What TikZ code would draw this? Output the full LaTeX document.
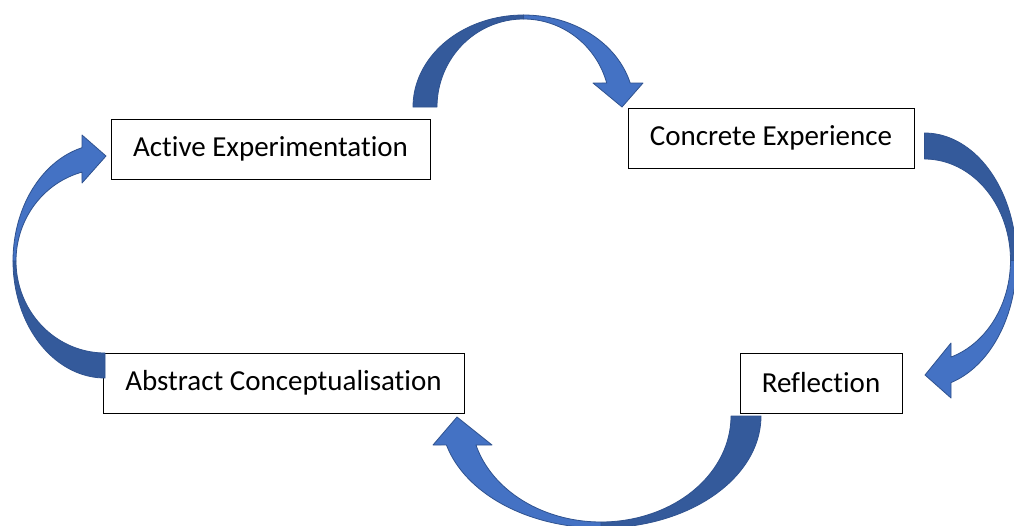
\documentclass[tikz,border=0pt]{standalone}
\usepackage{fontspec}
\setmainfont{Carlito}[Ligatures=NoCommon]
\definecolor{arrdark}{RGB}{52,90,155}
\definecolor{arrlight}{RGB}{68,114,196}
\definecolor{arrline}{RGB}{47,82,143}
\begin{document}
\begin{tikzpicture}[x=1pt,y=-1pt,
  stagebox/.style={draw=black, line width=1pt, fill=white, inner sep=0pt,
    minimum height=60pt, font=\fontsize{29}{34}\selectfont},
  backpart/.style={fill=arrdark, draw=arrline, line width=0.8pt, line join=round},
  frontpart/.style={fill=arrlight, draw=arrline, line width=0.8pt, line join=round}]
\clip (0,0) rectangle (1014,525);
\fill[white] (0,0) rectangle (1014,525);

% stages
\node[stagebox, minimum width=319pt] (ae) at (270.5,149) {Active Experimentation};
\node[stagebox, minimum width=286pt] (ce) at (771,138) {Concrete Experience};
\node[stagebox, minimum width=361pt] (ac) at (283.5,383) {Abstract Conceptualisation};
\node[stagebox, minimum width=162pt] (rf) at (821,383) {Reflection};

% top arrow: Active Experimentation -> Concrete Experience
\path[backpart] plot[domain=180:270,samples=40] ({523.5+110.5*cos(\x)},{107+92*sin(\x)})
  -- plot[domain=270:180,samples=40] ({523.5+86.5*cos(\x)},{107+88*sin(\x)}) -- cycle;
\path[frontpart] plot[domain=270:344.88,samples=40] ({523.5+110.5*cos(\x)},{107+92*sin(\x)})
  -- (643,83) -- (622,107) -- (593,83)
  -- plot[domain=344.17:270,samples=40] ({523.5+86.5*cos(\x)},{107+88*sin(\x)}) -- cycle;

% right arrow: Concrete Experience -> Reflection
\path[backpart] plot[domain=270:360,samples=40] ({924.5+92*cos(\x)},{260.5+127.5*sin(\x)})
  -- plot[domain=360:270,samples=40] ({924.5+86*cos(\x)},{260.5+101.5*sin(\x)}) -- cycle;
\path[frontpart] plot[domain=0:73.26,samples=40] ({924.5+92*cos(\x)},{260.5+127.5*sin(\x)})
  -- (951,398) -- (925,375) -- (951,343)
  -- plot[domain=72.05:0,samples=40] ({924.5+86*cos(\x)},{260.5+101.5*sin(\x)}) -- cycle;

% bottom arrow: Reflection -> Abstract Conceptualisation
\path[backpart] plot[domain=0:90,samples=40] ({601+160*cos(\x)},{416+112*sin(\x)})
  -- plot[domain=90:0,samples=40] ({601+130*cos(\x)},{416+106*sin(\x)}) -- cycle;
\path[frontpart] plot[domain=90:165.0,samples=40] ({601+160*cos(\x)},{416+112*sin(\x)})
  -- (433,445) -- (457,417) -- (492,445)
  -- plot[domain=164.12:90,samples=40] ({601+130*cos(\x)},{416+106*sin(\x)}) -- cycle;

% left arrow: Abstract Conceptualisation -> Active Experimentation
\path[backpart] plot[domain=90:180,samples=40] ({105+92*cos(\x)},{261+117*sin(\x)})
  -- plot[domain=180:90,samples=40] ({105+89*cos(\x)},{261+92*sin(\x)}) -- cycle;
\path[frontpart] plot[domain=180:255.52,samples=40] ({105+92*cos(\x)},{261+117*sin(\x)})
  -- (82,135) -- (106,156) -- (82,183)
  -- plot[domain=255.02:180,samples=40] ({105+89*cos(\x)},{261+92*sin(\x)}) -- cycle;
\end{tikzpicture}
\end{document}
